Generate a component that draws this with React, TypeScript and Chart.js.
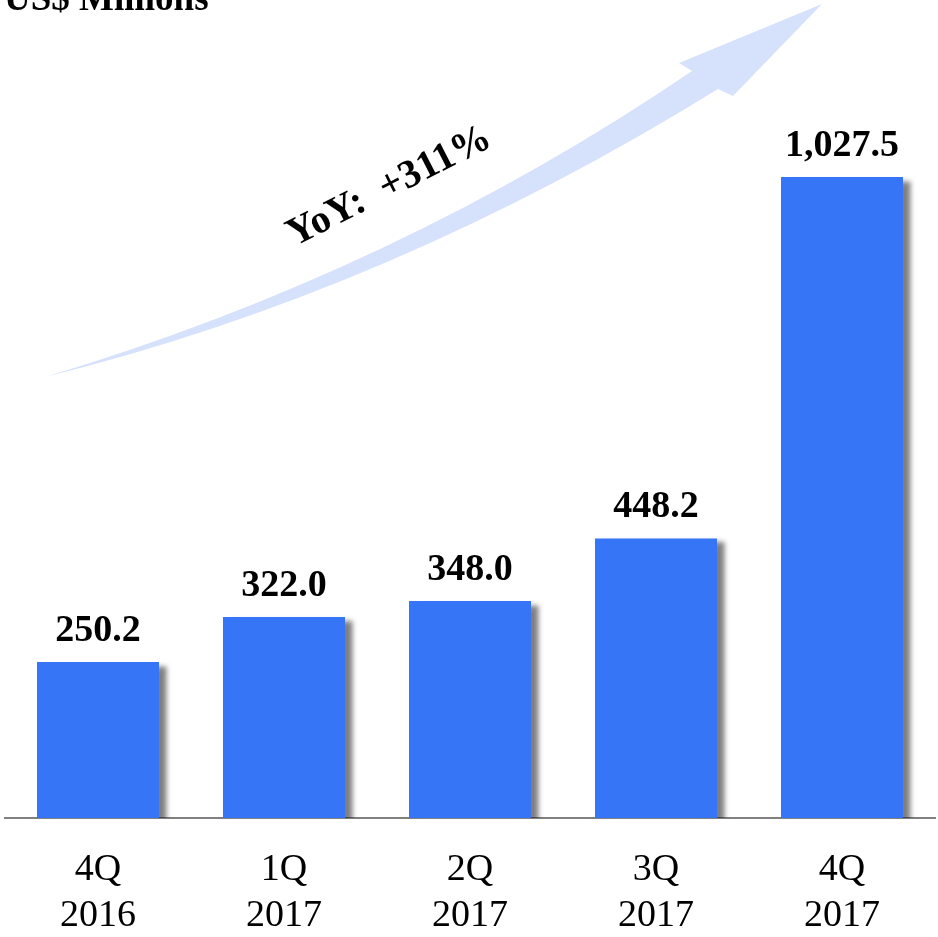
import React, { useEffect, useRef } from "react";
import { Chart, registerables } from "chart.js";

Chart.register(...registerables);

const categories: string[][] = [
  ["4Q", "2016"],
  ["1Q", "2017"],
  ["2Q", "2017"],
  ["3Q", "2017"],
  ["4Q", "2017"],
];
const revenue: number[] = [250.2, 322.0, 348.0, 448.2, 1027.5];
const valueLabels: string[] = ["250.2", "322.0", "348.0", "448.2", "1,027.5"];
const unitTitle = "US$ Millions";
const growthText = "YoY:  +311%";

const SERIF = "'Liberation Serif', 'Times New Roman', serif";

const decorPlugin = {
  id: "decor",
  beforeDatasetsDraw(chart: any) {
    const ctx = chart.ctx;
    ctx.save();
    // curved arrow
    ctx.fillStyle = "#D6E2FC";
    ctx.beginPath();
    ctx.moveTo(45, 377);
    ctx.quadraticCurveTo(398, 271, 692, 71);
    ctx.lineTo(679, 63);
    ctx.lineTo(822, 4);
    ctx.lineTo(733, 96);
    ctx.lineTo(718, 89);
    ctx.quadraticCurveTo(390, 292, 45, 377);
    ctx.closePath();
    ctx.fill();
    // growth text
    ctx.translate(394, 196);
    ctx.rotate((-27 * Math.PI) / 180);
    ctx.fillStyle = "#000";
    ctx.font = `bold 40px ${SERIF}`;
    ctx.textAlign = "center";
    ctx.textBaseline = "alphabetic";
    ctx.fillText(growthText, 0, 0);
    ctx.restore();

    ctx.save();
    ctx.fillStyle = "#000";
    ctx.font = `bold 37px ${SERIF}`;
    ctx.textAlign = "left";
    ctx.textBaseline = "alphabetic";
    ctx.fillText(unitTitle, 4, 10);
    ctx.restore();

    // shadow for bars
    ctx.save();
    ctx.shadowColor = "rgba(0,0,0,0.5)";
    ctx.shadowOffsetX = 8;
    ctx.shadowOffsetY = 4;
    ctx.shadowBlur = 5;
  },
  afterDatasetsDraw(chart: any) {
    const ctx = chart.ctx;
    ctx.restore();
    const meta = chart.getDatasetMeta(0);
    ctx.save();
    ctx.fillStyle = "#000";
    ctx.font = `bold 38px ${SERIF}`;
    ctx.textAlign = "center";
    ctx.textBaseline = "alphabetic";
    meta.data.forEach((bar: any, i: number) => {
      ctx.fillText(valueLabels[i], bar.x, bar.y - 21);
    });
    ctx.restore();
  },
};

export default function App() {
  const ref = useRef<HTMLCanvasElement>(null);
  useEffect(() => {
    if (!ref.current) return;
    const chart = new Chart(ref.current, {
      type: "bar",
      data: {
        labels: categories,
        datasets: [
          {
            data: revenue,
            backgroundColor: "#3575F6",
            borderWidth: 0,
            categoryPercentage: 1,
            barPercentage: 0.656,
          },
        ],
      },
      options: {
        responsive: false,
        animation: false,
        devicePixelRatio: 1,
        layout: { padding: { left: 5, right: 3, top: 7, bottom: 0 } },
        plugins: {
          legend: { display: false },
          tooltip: { enabled: false },
          title: { display: false },
        },
        scales: {
          y: { display: false, min: 0, max: 1300 },
          x: {
            grid: { display: false, drawTicks: false },
            border: { display: true, color: "#808080", width: 2 },
            afterFit: (scale: any) => {
              scale.height = 119;
            },
            ticks: {
              color: "#000",
              padding: 29,
              font: { family: SERIF, size: 38, lineHeight: 1.21 },
              maxRotation: 0,
            },
          },
        },
      },
      plugins: [decorPlugin],
    });
    return () => chart.destroy();
  }, []);
  return (
    <div style={{ position: "fixed", left: 0, top: 0, width: 938, height: 937, background: "#fff" }}>
      <canvas ref={ref} width={938} height={937} />
    </div>
  );
}
